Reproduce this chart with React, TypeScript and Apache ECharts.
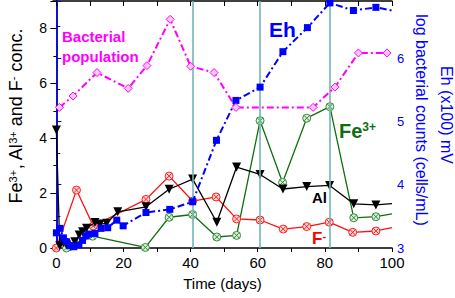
import React, { useEffect, useRef } from "react";
import * as echarts from "echarts";

// ---- data ----
const alDays = [0, 1, 2.1, 3.1, 4.3, 5.5, 6.8, 7.8, 9.0, 11.5, 13.0, 15.0, 18.3, 26.7, 33.6, 40.6, 47.8, 53.7, 60.7, 67.5, 74.6, 81.4, 88.6, 95.2, 100];
const alVals = [4.3, 0.08, 0.19, 0.11, 0.05, 0.23, 0.47, 0.59, 0.72, 0.93, 0.87, 0.9, 1.32, 1.5, 2.14, 2.51, 0.94, 2.95, 2.68, 2.15, 2.24, 2.28, 1.61, 1.57, 1.62];

const feDays = [3, 10.8, 26.5, 33.6, 40.6, 47.8, 53.7, 60.7, 67.4, 74.6, 81.5, 88.6, 95.2, 100];
const feVals = [0, 0.43, 0.02, 1.12, 1.22, 0.4, 0.46, 4.64, 2.39, 4.73, 5.15, 1.1, 1.14, 1.24];

const fDays = [0, 6, 11, 26.7, 33.6, 40.6, 47.6, 53.7, 60.7, 67.6, 74.6, 81.3, 88.3, 95.2, 100];
const fVals = [0, 2.11, 0.8, 1.77, 2.62, 1.71, 1.86, 1.06, 1.02, 0.69, 0.78, 0.94, 0.57, 0.62, 0.74];

const ehDays = [0, 1.1, 2.1, 3.0, 4.1, 5.2, 6.7, 7.8, 8.8, 9.6, 11.5, 13.3, 15.3, 18.0, 19.9, 26.7, 33.8, 40.6, 47.7, 53.5, 60.7, 67.5, 74.8, 81.5, 88.5, 95.2, 100];
const ehVals = [3.24, 3.31, 3.16, 3.1, 3.04, 3.02, 3.05, 3.12, 3.19, 3.22, 3.23, 3.31, 3.32, 3.44, 3.35, 3.56, 3.61, 3.73, 4.7, 5.33, 5.54, 6.1, 6.48, 6.87, 6.75, 6.8, 6.75];

const popDays = [0.9, 5, 12.1, 21.4, 27, 33.9, 40, 47, 53.5, 76.5, 83, 90, 98.5];
const popVals = [5.22, 5.4, 5.77, 5.52, 5.88, 6.61, 5.87, 5.77, 5.22, 5.22, 5.54, 6.08, 6.08];

const markDays = [40.7, 60.7, 81.5];

const xTickValues = [0, 10, 20, 30, 40, 50, 60, 70, 80, 90, 100];
const xLabelValues = [0, 20, 40, 60, 80, 100];

const leftName = "Fe{sup|3+}, Al{sup|3+} and F{sup|-} conc.";
const rightNameOuter = "Eh (x100) mV";
const rightNameInner = "log bacterial counts (cells/mL)";

const FONT = "Liberation Sans, Arial, sans-serif";
const crossCircle =
  "path://M0,10 A10,10 0 1,1 20,10 A10,10 0 1,1 0,10 Z M3,3 L17,17 M17,3 L3,17";

function pairs(xs: number[], ys: number[], lastNoSymbol = false) {
  return xs.map((x, i) => {
    if (lastNoSymbol && i === xs.length - 1 && x >= 100) {
      return { value: [x, ys[i]], symbol: "none" };
    }
    return { value: [x, ys[i]] };
  });
}

export default function App() {
  const ref = useRef<HTMLDivElement>(null);
  useEffect(() => {
    if (!ref.current) return;
    const chart = echarts.init(ref.current, null, { renderer: "svg" });
    const dashDot = [7, 3, 2, 3];
    chart.setOption({
      animation: false,
      backgroundColor: "#ffffff",
      textStyle: { fontFamily: FONT },
      grid: { left: 53, right: 63, top: 1, bottom: 50, containLabel: false, outerBoundsMode: "none" },
      xAxis: [
        {
          type: "value",
          min: -1,
          max: 100,
          position: "bottom",
          name: "Time (days)",
          nameLocation: "middle",
          nameGap: 28,
          nameTextStyle: { fontSize: 15, color: "#000", fontFamily: FONT },
          axisLine: { show: true, lineStyle: { color: "#000", width: 1.5 } },
          axisTick: {
            show: true,
            inside: false,
            length: 4,
            customValues: xTickValues,
            lineStyle: { color: "#000", width: 1 },
          },
          axisLabel: {
            customValues: xLabelValues,
            fontSize: 15,
            color: "#000",
            margin: 7,
            fontFamily: FONT,
          },
          splitLine: { show: false },
        },
        {
          type: "value",
          min: -1,
          max: 100,
          position: "top",
          axisLine: { show: true, onZero: false, lineStyle: { color: "#000", width: 1.5 } },
          axisTick: {
            show: true,
            inside: true,
            length: 5,
            customValues: xTickValues,
            lineStyle: { color: "#000", width: 1 },
          },
          axisLabel: { show: false },
          splitLine: { show: false },
        },
      ],
      yAxis: [
        {
          type: "value",
          min: 0,
          max: 9,
          interval: 2,
          position: "left",
          axisLine: { show: true, lineStyle: { color: "#000", width: 1.5 } },
          axisTick: { show: true, inside: false, length: 6, lineStyle: { color: "#000" } },
          minorTick: { show: true, splitNumber: 2, length: 3, lineStyle: { color: "#000" } },
          axisLabel: {
            fontSize: 14,
            color: "#000",
            margin: 6,
            fontFamily: FONT,
            formatter: (v: number) => (v % 2 === 0 && v <= 8 ? String(v) : ""),
          },
          splitLine: { show: false },
        },
        {
          type: "value",
          min: 3,
          max: 6.9,
          interval: 1,
          position: "right",
          axisLine: { show: true, lineStyle: { color: "#0000ff", width: 1.5 } },
          axisTick: { show: true, inside: false, length: 5, lineStyle: { color: "#0000ff" } },
          minorTick: { show: true, splitNumber: 2, length: 4, lineStyle: { color: "#0000ff" } },
          axisLabel: {
            fontSize: 13,
            color: "#0000ff",
            margin: 5,
            fontFamily: FONT,
            formatter: (v: number) => (Number.isInteger(v) ? String(v) : ""),
          },
          splitLine: { show: false },
        },
      ],
      series: [
        {
          name: "marks",
          type: "line",
          data: [],
          z: 1,
          markLine: {
            silent: true,
            symbol: ["none", "none"],
            label: { show: false },
            lineStyle: { color: "#72b5b5", width: 1.6, type: "solid" },
            data: markDays.map((d) => ({ xAxis: d })),
          },
        },
        {
          name: "F-",
          type: "line",
          xAxisIndex: 0,
          yAxisIndex: 0,
          z: 3,
          data: pairs(fDays, fVals, true),
          symbol: crossCircle,
          symbolSize: 8,
          lineStyle: { color: "#ff1010", width: 1.3 },
          itemStyle: { color: "#ffd6d6", borderColor: "#ff2020", borderWidth: 1 },
        },
        {
          name: "Fe3+",
          type: "line",
          xAxisIndex: 0,
          yAxisIndex: 0,
          z: 3,
          data: pairs(feDays, feVals, true),
          symbol: crossCircle,
          symbolSize: 8,
          lineStyle: { color: "#0f6e0f", width: 1.3 },
          itemStyle: { color: "#d8f0d8", borderColor: "#3a8a3a", borderWidth: 1 },
        },
        {
          name: "Al",
          type: "line",
          xAxisIndex: 0,
          yAxisIndex: 0,
          z: 4,
          data: pairs(alDays, alVals, true),
          symbol: "triangle",
          symbolRotate: 180,
          symbolSize: 9,
          lineStyle: { color: "#000", width: 1.3 },
          itemStyle: { color: "#000" },
        },
        {
          name: "Eh",
          type: "line",
          xAxisIndex: 0,
          yAxisIndex: 1,
          z: 5,
          data: pairs(ehDays, ehVals, true),
          symbol: "rect",
          symbolSize: 7,
          lineStyle: { color: "#0000ff", width: 2, type: dashDot },
          itemStyle: { color: "#0000ff" },
        },
        {
          name: "Bacterial population",
          type: "line",
          xAxisIndex: 0,
          yAxisIndex: 1,
          z: 5,
          data: pairs(popDays, popVals),
          symbol: "diamond",
          symbolSize: 8,
          lineStyle: { color: "#ff00ff", width: 2, type: dashDot },
          itemStyle: { color: "#ffc8ff", borderColor: "#ff00ff", borderWidth: 1 },
        },
      ],
      graphic: [
        {
          type: "text",
          x: 16,
          y: 116,
          rotation: Math.PI / 2,
          style: {
            text: leftName,
            fill: "#000",
            font: `18px ${FONT}`,
            align: "center",
            verticalAlign: "middle",
            rich: {
              sup: { fill: "#000", font: `11px ${FONT}`, verticalAlign: "top" },
            },
          },
        },
        {
          type: "text",
          x: 421,
          y: 120,
          rotation: -Math.PI / 2,
          style: {
            text: rightNameInner,
            fill: "#0000ff",
            font: `16px ${FONT}`,
            align: "center",
            verticalAlign: "middle",
          },
        },
        {
          type: "text",
          x: 446,
          y: 115,
          rotation: -Math.PI / 2,
          style: {
            text: rightNameOuter,
            fill: "#0000ff",
            font: `16px ${FONT}`,
            align: "center",
            verticalAlign: "middle",
          },
        },
        {
          type: "text",
          left: 62,
          top: 26,
          style: {
            text: "Bacterial\npopulation",
            fill: "#ff00ff",
            font: `bold 15px ${FONT}`,
            lineHeight: 20,
          },
        },
        {
          type: "text",
          left: 269,
          top: 19,
          style: { text: "Eh", fill: "#0000ff", font: `bold 21px ${FONT}` },
        },
        {
          type: "text",
          left: 339,
          top: 121,
          style: {
            text: "Fe{sup|3+}",
            fill: "#0f6e0f",
            font: `bold 20px ${FONT}`,
            rich: {
              sup: { fill: "#0f6e0f", font: `bold 12px ${FONT}`, verticalAlign: "top" },
            },
          },
        },
        {
          type: "text",
          left: 312,
          top: 190,
          style: { text: "Al", fill: "#000", font: `bold 15px ${FONT}` },
        },
        {
          type: "text",
          left: 312,
          top: 230,
          style: {
            text: "F{sup|-}",
            fill: "#ff0000",
            font: `bold 17px ${FONT}`,
            rich: {
              sup: { fill: "#ff0000", font: `bold 11px ${FONT}`, verticalAlign: "top" },
            },
          },
        },
      ],
    });
    return () => chart.dispose();
  }, []);
  return (
    <div
      ref={ref}
      style={{ position: "fixed", left: 0, top: 0, width: 455, height: 298, background: "#fff" }}
    />
  );
}
